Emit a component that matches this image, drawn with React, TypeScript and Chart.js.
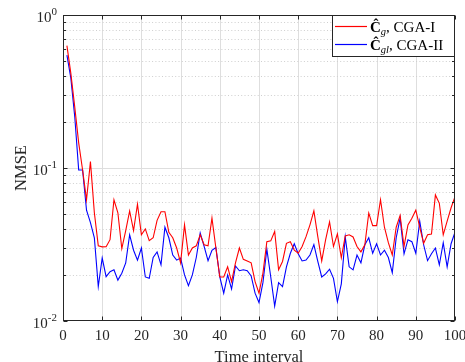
import React, { useEffect, useRef } from 'react';
import { Chart, registerables } from 'chart.js';

Chart.register(...registerables);

const timeIntervals = [
  1, 2, 3, 4, 5, 6, 7, 8, 9, 10, 11, 12, 13, 14, 15, 16, 17, 18, 19, 20,
  21, 22, 23, 24, 25, 26, 27, 28, 29, 30, 31, 32, 33, 34, 35, 36, 37, 38, 39, 40,
  41, 42, 43, 44, 45, 46, 47, 48, 49, 50, 51, 52, 53, 54, 55, 56, 57, 58, 59, 60,
  61, 62, 63, 64, 65, 66, 67, 68, 69, 70, 71, 72, 73, 74, 75, 76, 77, 78, 79, 80,
  81, 82, 83, 84, 85, 86, 87, 88, 89, 90, 91, 92, 93, 94, 95, 96, 97, 98, 99, 100,
];

const nmseCGA1 = [
  0.63, 0.415, 0.25, 0.146, 0.097, 0.062, 0.11, 0.051, 0.031, 0.0305,
  0.0306, 0.034, 0.062, 0.051, 0.0297, 0.039, 0.0524, 0.039, 0.058, 0.0366,
  0.04, 0.0335, 0.035, 0.0455, 0.0518, 0.0518, 0.038, 0.035, 0.03, 0.024,
  0.0425, 0.027, 0.03, 0.031, 0.0366, 0.0315, 0.031, 0.047, 0.03, 0.0194,
  0.0194, 0.0226, 0.0181, 0.024, 0.03, 0.0253, 0.0247, 0.024, 0.0181, 0.0152,
  0.0205, 0.033, 0.0334, 0.0385, 0.0216, 0.0245, 0.0322, 0.033, 0.029, 0.0277,
  0.0307, 0.0356, 0.0425, 0.0524, 0.0356, 0.0247, 0.034, 0.0444, 0.0307, 0.0371,
  0.0259, 0.036, 0.0366, 0.0354, 0.0307, 0.0283, 0.0315, 0.0508, 0.042, 0.042,
  0.062, 0.041, 0.0325, 0.027, 0.041, 0.049, 0.0307, 0.0425, 0.047, 0.053,
  0.041, 0.0322, 0.0366, 0.037, 0.0667, 0.0588, 0.0366, 0.045, 0.055, 0.065,
];

const nmseCGA2 = [
  0.547, 0.387, 0.216, 0.097, 0.097, 0.053, 0.044, 0.035, 0.0168, 0.0258,
  0.0195, 0.021, 0.0216, 0.0185, 0.0205, 0.024, 0.0366, 0.029, 0.025, 0.03,
  0.0194, 0.019, 0.026, 0.0283, 0.0233, 0.041, 0.035, 0.027, 0.025, 0.0258,
  0.02, 0.017, 0.02, 0.026, 0.0376, 0.0307, 0.0248, 0.029, 0.0302, 0.0194,
  0.0152, 0.02, 0.0162, 0.0229, 0.0213, 0.0216, 0.0213, 0.0197, 0.0152, 0.0132,
  0.0178, 0.0295, 0.0194, 0.0125, 0.0178, 0.0168, 0.0226, 0.0277, 0.032, 0.0275,
  0.0247, 0.025, 0.027, 0.0316, 0.0245, 0.0194, 0.0203, 0.0218, 0.019, 0.0134,
  0.0175, 0.0354, 0.0226, 0.0216, 0.027, 0.024, 0.0315, 0.035, 0.0277, 0.032,
  0.027, 0.029, 0.026, 0.0207, 0.035, 0.047, 0.0275, 0.034, 0.033, 0.0277,
  0.045, 0.0315, 0.0248, 0.0275, 0.03, 0.0233, 0.0325, 0.0226, 0.032, 0.038,
];

const xTickValues = [0, 10, 20, 30, 40, 50, 60, 70, 80, 90, 100];
const yDecades = [0.01, 0.1, 1];
const yExponents = ['-2', '-1', '0'];
const minorMultipliers = [2, 3, 4, 5, 6, 7, 8, 9];

const xTitle = 'Time interval';
const yTitle = 'NMSE';
const legendItems = [
  { sub: 'g', rest: ', CGA-I', color: '#ff0000' },
  { sub: 'gl', rest: ', CGA-II', color: '#0000ff' },
];

const FONT = '"Liberation Serif", "Times New Roman", serif';
const AXIS = '#262626';

const matlabPlugin = {
  id: 'matlabLook',
  beforeDatasetsDraw(chart: any) {
    const { ctx, chartArea: a } = chart;
    const xs = chart.scales.x;
    const ys = chart.scales.y;
    ctx.save();
    ctx.lineWidth = 1;
    ctx.strokeStyle = '#dedede';
    for (const t of xTickValues) {
      const px = Math.round(xs.getPixelForValue(t)) + 0.5;
      if (px <= a.left + 1 || px >= a.right - 1) continue;
      ctx.beginPath();
      ctx.moveTo(px, a.top);
      ctx.lineTo(px, a.bottom);
      ctx.stroke();
    }
    for (const d of yDecades) {
      const py = Math.round(ys.getPixelForValue(d)) + 0.5;
      if (py <= a.top + 1 || py >= a.bottom - 1) continue;
      ctx.beginPath();
      ctx.moveTo(a.left, py);
      ctx.lineTo(a.right, py);
      ctx.stroke();
    }
    ctx.strokeStyle = '#cfcfcf';
    ctx.setLineDash([1, 2.3]);
    for (const d of yDecades.slice(0, 2)) {
      for (const m of minorMultipliers) {
        const py = Math.round(ys.getPixelForValue(d * m)) + 0.5;
        ctx.beginPath();
        ctx.moveTo(a.left, py);
        ctx.lineTo(a.right, py);
        ctx.stroke();
      }
    }
    ctx.setLineDash([]);
    ctx.restore();
  },
  afterDraw(chart: any) {
    const { ctx, chartArea: a } = chart;
    const xs = chart.scales.x;
    const ys = chart.scales.y;
    const L = Math.round(a.left) + 0.5;
    const R = Math.round(a.right) - 0.5;
    const T = Math.round(a.top) + 0.5;
    const B = Math.round(a.bottom) - 0.5;
    ctx.save();
    ctx.strokeStyle = AXIS;
    ctx.lineWidth = 1;
    ctx.strokeRect(L, T, R - L, B - T);
    ctx.beginPath();
    for (const t of xTickValues) {
      const px = Math.round(xs.getPixelForValue(t)) + 0.5;
      ctx.moveTo(px, B);
      ctx.lineTo(px, B - 4);
      ctx.moveTo(px, T);
      ctx.lineTo(px, T + 4);
    }
    for (const d of yDecades) {
      const py = Math.round(ys.getPixelForValue(d)) + 0.5;
      ctx.moveTo(L, py);
      ctx.lineTo(L + 4, py);
      ctx.moveTo(R, py);
      ctx.lineTo(R - 4, py);
    }
    for (const d of yDecades.slice(0, 2)) {
      for (const m of minorMultipliers) {
        const py = Math.round(ys.getPixelForValue(d * m)) + 0.5;
        ctx.moveTo(L, py);
        ctx.lineTo(L + 2.5, py);
        ctx.moveTo(R, py);
        ctx.lineTo(R - 2.5, py);
      }
    }
    ctx.stroke();

    ctx.fillStyle = AXIS;
    ctx.font = `15px ${FONT}`;
    ctx.textAlign = 'center';
    ctx.textBaseline = 'alphabetic';
    for (const t of xTickValues) {
      ctx.fillText(String(t), xs.getPixelForValue(t), a.bottom + 18.5);
    }
    yDecades.forEach((d, i) => {
      const py = ys.getPixelForValue(d);
      ctx.font = `11px ${FONT}`;
      const ew = ctx.measureText(yExponents[i]).width;
      ctx.textAlign = 'left';
      const right = a.left - 6;
      ctx.fillText(yExponents[i], right - ew, py - 0.5);
      ctx.font = `15px ${FONT}`;
      ctx.textAlign = 'right';
      ctx.fillText('10', right - ew, py + 7);
    });
    ctx.font = `16.5px ${FONT}`;
    ctx.textAlign = 'center';
    ctx.fillText(xTitle, (a.left + a.right) / 2, 361.5);
    ctx.save();
    ctx.translate(26, (a.top + a.bottom) / 2);
    ctx.rotate(-Math.PI / 2);
    ctx.fillText(yTitle, 0, 0);
    ctx.restore();

    const lx = 332.5;
    const ly = T;
    const lw = R - lx;
    const lh = 41;
    ctx.fillStyle = '#ffffff';
    ctx.fillRect(lx, ly, lw, lh);
    ctx.strokeStyle = AXIS;
    ctx.lineWidth = 1;
    ctx.strokeRect(lx, ly, lw, lh);
    legendItems.forEach((it, i) => {
      const yy = Math.round(ly + 10 + i * 18.5) + 0.5;
      ctx.beginPath();
      ctx.strokeStyle = it.color;
      ctx.lineWidth = 1.2;
      ctx.moveTo(335, yy);
      ctx.lineTo(367, yy);
      ctx.stroke();
      ctx.fillStyle = '#000000';
      ctx.textAlign = 'left';
      let cx = 370;
      const base = yy + 5;
      ctx.font = `bold 15px ${FONT}`;
      ctx.fillText('Ĉ', cx, base);
      cx += ctx.measureText('Ĉ').width;
      ctx.font = `italic 10.5px ${FONT}`;
      ctx.fillText(it.sub, cx, base + 3);
      cx += ctx.measureText(it.sub).width;
      ctx.font = `15px ${FONT}`;
      ctx.fillText(it.rest, cx, base);
    });
    ctx.restore();
  },
};

export default function App() {
  const ref = useRef<HTMLCanvasElement | null>(null);
  useEffect(() => {
    document.body.style.margin = '0';
    const canvas = ref.current;
    if (!canvas) return;
    const chart = new Chart(canvas, {
      type: 'line',
      data: {
        datasets: [
          {
            label: 'CGA-I',
            data: timeIntervals.map((t, i) => ({ x: t, y: nmseCGA1[i] })),
            borderColor: '#ff0000',
            borderWidth: 1.1,
            pointRadius: 0,
            tension: 0,
            fill: false,
          },
          {
            label: 'CGA-II',
            data: timeIntervals.map((t, i) => ({ x: t, y: nmseCGA2[i] })),
            borderColor: '#0000ff',
            borderWidth: 1.1,
            pointRadius: 0,
            tension: 0,
            fill: false,
          },
        ],
      },
      options: {
        animation: false,
        responsive: false,
        events: [],
        layout: { padding: { left: 63, right: 10, top: 15, bottom: 41 } },
        plugins: { legend: { display: false }, tooltip: { enabled: false } },
        scales: {
          x: { type: 'linear', min: 0, max: 100, display: false },
          y: { type: 'logarithmic', min: 0.01, max: 1, display: false },
        },
      },
      plugins: [matlabPlugin],
    });
    return () => chart.destroy();
  }, []);
  return (
    <div style={{ width: 465, height: 362, background: '#fff' }}>
      <canvas ref={ref} width={465} height={362} style={{ display: 'block' }} />
    </div>
  );
}
